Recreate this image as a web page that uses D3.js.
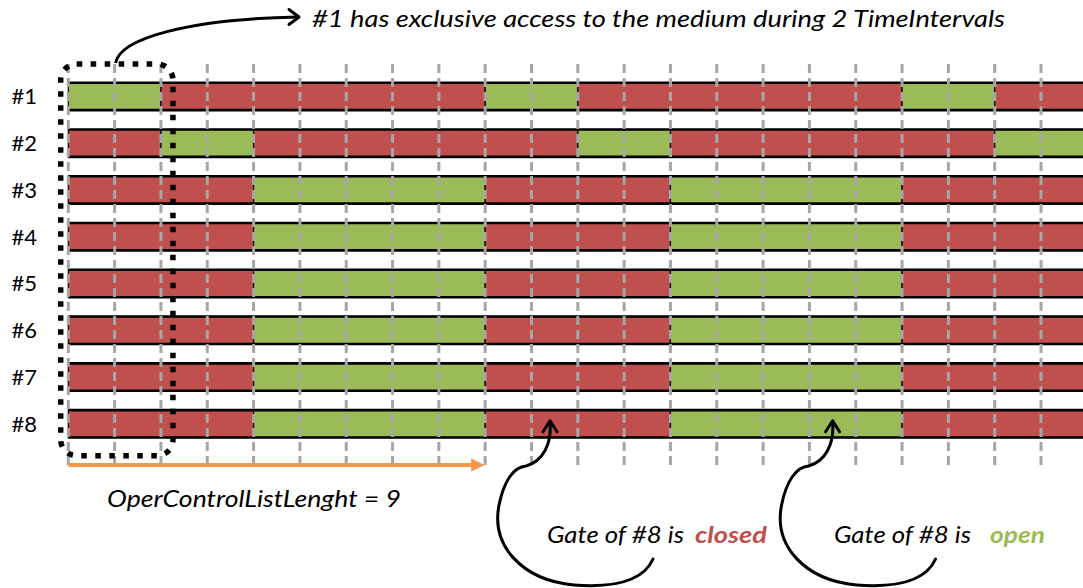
<!DOCTYPE html>
<html>
<head>
<meta charset="utf-8">
<script src="https://cdn.jsdelivr.net/npm/d3@7"></script>
<style>
  html, body { margin: 0; padding: 0; background: #fff; }
  svg { display: block; }
  text { font-family: Lato, "Open Sans", sans-serif; }
</style>
</head>
<body>
<svg id="chart" width="1083" height="588"></svg>
<script>
// ---- data ----
const stations = ["#1", "#2", "#3", "#4", "#5", "#6", "#7", "#8"];
const intervalCount = 22;                       // TimeIntervals shown
const gridTicks = d3.range(0, 23);              // interval boundaries
// open windows [start, end) per station, in TimeIntervals
const openWindows = [
  [[0, 2], [9, 11], [18, 20]],
  [[2, 4], [11, 13], [20, 22]],
  [[4, 9], [13, 18]],
  [[4, 9], [13, 18]],
  [[4, 9], [13, 18]],
  [[4, 9], [13, 18]],
  [[4, 9], [13, 18]],
  [[4, 9], [13, 18]]
];
const listLength = 9;
const exclusiveSpan = [0, 2];
const titleText = "#1 has exclusive access to the medium during 2 TimeIntervals";
const lengthText = "OperControlListLenght = 9";
const gateLabel = "Gate of #8 is";
const stateWords = ["closed", "open"];
const pointedIntervals = [10.4, 16.5];

// ---- build segments ----
function segmentsFor(wins) {
  const segs = [];
  let t = 0;
  wins.forEach(([a, b]) => {
    if (a > t) segs.push({ s: t, e: a, open: false });
    segs.push({ s: a, e: b, open: true });
    t = b;
  });
  if (t < intervalCount) segs.push({ s: t, e: intervalCount, open: false });
  return segs;
}

const RED = "#c0504d", GREEN = "#9bbb59", ORANGE = "#f79646", GRID = "#a6a6a6";

const svg = d3.select("#chart");
const x = d3.scaleLinear().domain([0, intervalCount]).range([68.3, 68.3 + intervalCount * 46.32]);
const y = d3.scalePoint().domain(stations).range([96.4, 423.8]);
const barH = 27.4;

// ---- bars ----
const rows = svg.append("g").selectAll("g").data(stations).join("g");
rows.each(function (st, i) {
  const g = d3.select(this);
  const segs = segmentsFor(openWindows[i]);
  g.selectAll("rect").data(segs).join("rect")
    .attr("x", d => x(d.s))
    .attr("y", y(st) - barH / 2)
    .attr("width", d => x(d.e) - x(d.s))
    .attr("height", barH)
    .attr("fill", d => d.open ? GREEN : RED)
    .attr("stroke", "#000")
    .attr("stroke-width", 1.2);
  [y(st) - barH / 2, y(st) + barH / 2].forEach(yy => {
    g.append("line")
      .attr("x1", x(0)).attr("x2", x(intervalCount))
      .attr("y1", yy).attr("y2", yy)
      .attr("stroke", "#000").attr("stroke-width", 2.6);
  });
});

// ---- grid (dashed, over bars) ----
svg.append("g").selectAll("line").data(gridTicks).join("line")
  .attr("x1", d => x(d)).attr("x2", d => x(d))
  .attr("y1", 64).attr("y2", 466)
  .attr("stroke", GRID).attr("stroke-width", 3)
  .attr("stroke-dasharray", "9,5");

// ---- row labels ----
svg.append("g").selectAll("text").data(stations).join("text")
  .attr("x", 37).attr("y", d => y(d) + 8)
  .attr("text-anchor", "end")
  .attr("font-size", 22)
  .attr("fill", "#000")
  .text(d => d);

// ---- dotted rounded frame around #1 exclusive window ----
svg.append("rect")
  .attr("x", x(exclusiveSpan[0]) - 7.6)
  .attr("y", 64)
  .attr("width", x(exclusiveSpan[1]) - x(exclusiveSpan[0]) + 19.6)
  .attr("height", 391.7)
  .attr("rx", 16).attr("ry", 16)
  .attr("fill", "none")
  .attr("stroke", "#000")
  .attr("stroke-width", 5.5)
  .attr("stroke-dasharray", "5.5,8.5");

// ---- top annotation ----
svg.append("path")
  .attr("d", `M${x(1) + 1},63 C120,38 190,19 298,17`)
  .attr("fill", "none").attr("stroke", "#000").attr("stroke-width", 3);
svg.append("path")
  .attr("d", "M289,9.5 L299,17 L289,24.5")
  .attr("fill", "none").attr("stroke", "#000").attr("stroke-width", 3)
  .attr("stroke-linecap", "round").attr("stroke-linejoin", "round");
svg.append("text")
  .attr("x", 312).attr("y", 27)
  .attr("font-size", 23).attr("font-style", "italic")
  .attr("textLength", 693).attr("lengthAdjust", "spacingAndGlyphs")
  .text(titleText);

// ---- orange list-length arrow ----
svg.append("line")
  .attr("x1", x(0)).attr("x2", x(listLength) - 12)
  .attr("y1", 465).attr("y2", 465)
  .attr("stroke", ORANGE).attr("stroke-width", 4);
svg.append("path")
  .attr("d", `M${x(listLength) - 14},458.5 L${x(listLength) - 0.5},465 L${x(listLength) - 14},471.5 Z`)
  .attr("fill", ORANGE);
svg.append("text")
  .attr("x", 107).attr("y", 507)
  .attr("font-size", 23).attr("font-style", "italic")
  .attr("textLength", 294).attr("lengthAdjust", "spacingAndGlyphs")
  .text(lengthText);

// ---- bottom curved arrows ----
const yTip = y("#8") - 3;
pointedIntervals.forEach((iv, k) => {
  const tx = x(iv);
  const dx = tx - 554;
  const p = d3.path();
  p.moveTo(657 + dx + (k ? 0 : 0), 559);
  p.bezierCurveTo(645 + dx, 586, 605 + dx, 587, 578 + dx, 585);
  p.bezierCurveTo(525 + dx, 580, 495 + dx, 545, 503 + dx, 505);
  p.bezierCurveTo(508 + dx, 480, 518 + dx, 467, 530 + dx, 466);
  p.bezierCurveTo(546 + dx, 462, 556 + dx, 445, tx, yTip + 1);
  svg.append("path").attr("d", p.toString())
    .attr("fill", "none").attr("stroke", "#000").attr("stroke-width", 3)
    .attr("stroke-linecap", "round");
  svg.append("path")
    .attr("d", `M${tx - 7},${yTip + 11} L${tx},${yTip} L${tx + 7},${yTip + 11}`)
    .attr("fill", "none").attr("stroke", "#000").attr("stroke-width", 3)
    .attr("stroke-linecap", "round").attr("stroke-linejoin", "round");
});

const gateX = [547, 834];
const wordX = [695, 990];
const wordW = [72, 55];
stateWords.forEach((w, k) => {
  svg.append("text")
    .attr("x", gateX[k]).attr("y", 543)
    .attr("font-size", 23).attr("font-style", "italic")
    .attr("textLength", 137).attr("lengthAdjust", "spacingAndGlyphs")
    .text(gateLabel);
  svg.append("text")
    .attr("x", wordX[k]).attr("y", 543)
    .attr("font-size", 23).attr("font-style", "italic").attr("font-weight", "bold")
    .attr("fill", k ? GREEN : RED)
    .attr("textLength", wordW[k]).attr("lengthAdjust", "spacingAndGlyphs")
    .text(w);
});
</script>
</body>
</html>
